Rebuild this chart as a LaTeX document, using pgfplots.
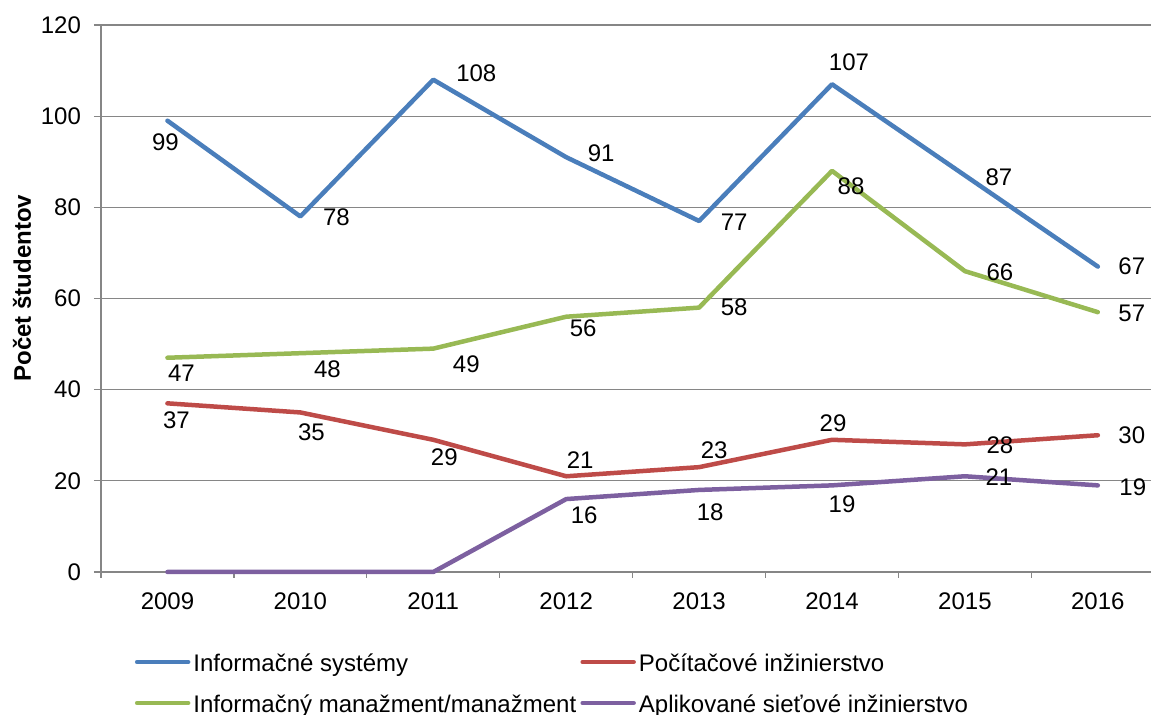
\documentclass[border=0pt]{standalone}
\usepackage{fontspec}
\setmainfont{Liberation Sans}
\usepackage{pgfplots}
\pgfplotsset{compat=1.18}
\usepackage{pgfplotstable}

\definecolor{cBlue}{RGB}{74,126,187}
\definecolor{cRed}{RGB}{190,75,72}
\definecolor{cGreen}{RGB}{152,185,84}
\definecolor{cPurple}{RGB}{125,96,160}
\definecolor{axgray}{RGB}{134,134,134}

% x = year index (0 = 2009), y = value, dx/dy = label offset in px
\pgfplotstableread{
x y dx dy
0 99 -2 22
1 78 36 1
2 108 43 -6
3 91 35 -4
4 77 35 1
5 107 17 -22
6 87 34 2
7 67 34 0
}\tblBlue
\pgfplotstableread{
x y dx dy
0 37 9 17
1 35 11 20
2 29 11 17
3 21 14 -16
4 23 15 -17
5 29 1 -17
6 28 35 1
7 30 34 0
}\tblRed
\pgfplotstableread{
x y dx dy
0 47 14 15
1 48 27 16
2 49 33 16
3 56 17 12
4 58 35 0
5 88 19 15
6 66 35 1
7 57 34 1
}\tblGreen
\pgfplotstableread{
x y dx dy
0 0 0 0
1 0 0 0
2 0 0 0
3 16 18 16
4 18 11 22
5 19 10 19
6 21 34 1
7 19 35 2
}\tblPurple

\newcommand{\cf}{\fontsize{12}{14}\selectfont}
\newcommand{\lt}[1]{\makebox[190pt][l]{#1}}

\pgfplotsset{
  lbl/.style={draw=none, forget plot, mark=none, nodes near coords, point meta=y,
    visualization depends on={\thisrow{dx}\as\dx},
    visualization depends on={\thisrow{dy}\as\dy},
    nodes near coords style={anchor=center, inner sep=0pt, font=\cf, text=black,
      xshift={\dx*0.5pt}, yshift={-\dy*0.5pt}}},
  ser/.style={#1, line width=2.25pt, line join=round, line cap=round, mark=none},
}

\begin{document}
\begin{tikzpicture}
\useasboundingbox (-50.5pt,-71.5pt) rectangle (525pt,286pt);
\begin{axis}[
  scale only axis, width=525pt, height=273.5pt,
  xmin=-0.5, xmax=7.4, ymin=0, ymax=120,
  axis x line*=bottom, axis y line*=left,
  axis line style={axgray, line width=0.6pt},
  xtick={0,1,2,3,4,5,6,7},
  xticklabels={2009,2010,2011,2012,2013,2014,2015,2016},
  minor xtick={-0.5,0.5,1.5,2.5,3.5,4.5,5.5,6.5},
  ytick={0,20,40,60,80,100,120},
  tick align=outside,
  major tick length=3.5pt, minor tick length=3pt,
  major x tick style={draw=none},
  minor x tick style={axgray, line width=0.6pt},
  ytick style={axgray, line width=0.6pt},
  ymajorgrids, grid style={axgray, line width=0.6pt},
  tick label style={font=\cf, text=black},
  yticklabel style={xshift=-3pt},
  xticklabel style={yshift=-3.5pt},
  /pgf/number format/assume math mode=true,
  ylabel={Počet študentov},
  every axis y label/.style={at={(axis description cs:-0.0752,0.519)}, rotate=90, anchor=center, font=\bfseries\cf},
  clip=false,
  legend columns=2,
  legend image code/.code={\draw[#1, line cap=round] (0pt,0pt) -- (25.5pt,0pt);},
  legend style={at={(axis description cs:0.0323,0)}, anchor=north west, yshift=-40pt,
    draw=none, fill=none, inner sep=0pt, outer sep=0pt, row sep=10.5pt, font=\cf,
    nodes={inner sep=0pt, anchor=west, text height=10pt, text depth=0pt},
    /tikz/every odd column/.append style={column sep=1.5pt},
    /tikz/every even column/.append style={column sep=3.5pt}},
]
\addplot[ser=cBlue] table[x=x,y=y] {\tblBlue};
\addlegendentry{\lt{Informačné systémy}}
\addplot[ser=cRed] table[x=x,y=y] {\tblRed};
\addlegendentry{\lt{Počítačové inžinierstvo}}
\addplot[ser=cGreen] table[x=x,y=y] {\tblGreen};
\addlegendentry{\lt{Informačný manažment/manažment}}
\addplot[ser=cPurple] table[x=x,y=y] {\tblPurple};
\addlegendentry{\lt{Aplikované sieťové inžinierstvo}}

\addplot[lbl] table[x=x,y=y] {\tblBlue};
\addplot[lbl] table[x=x,y=y] {\tblRed};
\addplot[lbl] table[x=x,y=y] {\tblGreen};
\addplot[lbl, restrict y to domain=1:200] table[x=x,y=y] {\tblPurple};
\end{axis}
\end{tikzpicture}
\end{document}
